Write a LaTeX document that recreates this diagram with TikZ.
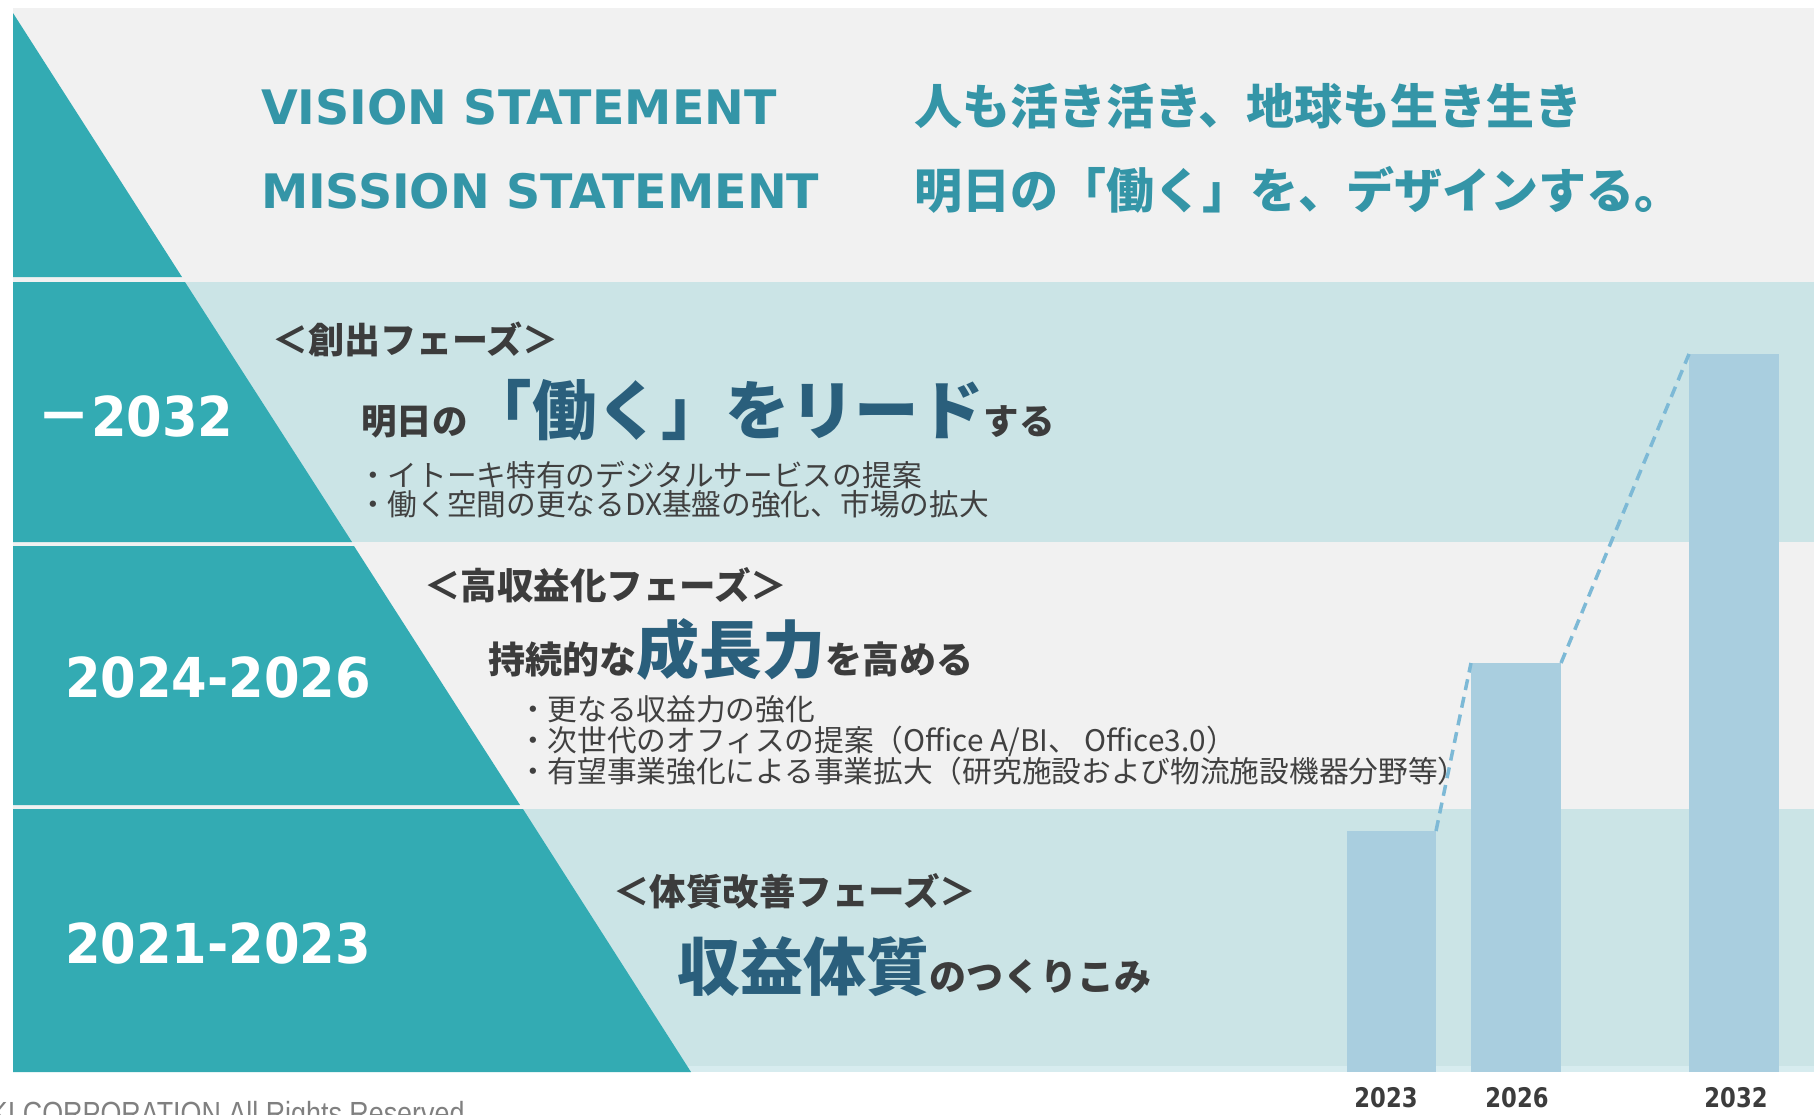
\documentclass[tikz,border=0pt]{standalone}
\usepackage{fontspec}
\newfontfamily\jp{Noto Sans CJK JP}
\newfontfamily\dv{DejaVu Sans}
\newfontfamily\dvn{DejaVu Sans}[FakeStretch=0.93]
\newfontfamily\dvl{DejaVu Sans}[FakeStretch=0.84]
\newfontfamily\lib{Liberation Sans}[FakeStretch=0.84]
\newcommand\fs[1]{\fontsize{#1}{#1}\selectfont}
\definecolor{teal}{HTML}{33ABB3}
\definecolor{ltteal}{HTML}{CBE4E6}
\definecolor{bggray}{HTML}{F1F1F1}
\definecolor{strip}{HTML}{D7ECEF}
\definecolor{barblue}{HTML}{A9CEDF}
\definecolor{dashblue}{HTML}{7DB9D6}
\definecolor{vtext}{HTML}{3495A7}
\definecolor{dkblue}{HTML}{2A5F7C}
\definecolor{dkgray}{HTML}{3C3C3C}
\definecolor{bultext}{HTML}{404040}
\definecolor{footgray}{HTML}{808080}
\begin{document}
\begin{tikzpicture}[x=1pt,y=-1pt,
  txt/.style={anchor=base west, inner sep=0pt, outer sep=0pt},
  head/.style={txt, font=\jp\bfseries\fs{36}, text=dkgray},
  bul/.style={txt, font=\jp\fs{29.7}, text=bultext},
  yr/.style={txt, font=\dvn\bfseries\fs{55}, text=white},
  top/.style={txt, font=\dv\bfseries\fs{47.5}, text=vtext},
  topjp/.style={txt, font=\jp\bfseries\fs{48}, text=vtext},
  bar/.style={fill=barblue, draw=none, anchor=south west, inner sep=0pt, outer sep=0pt},
  dashline/.style={draw=dashblue, line width=3.5pt, dash pattern=on 11pt off 7pt},
  lbl/.style={anchor=base, inner sep=0pt, font=\dvl\bfseries\fs{27}, text=dkgray}]
\useasboundingbox (0,0) rectangle (1814,1114);
\fill[white] (0,0) rectangle (1814,1114);
% bands
\fill[bggray] (13,8) rectangle (1814,282);
\fill[ltteal] (13,282) rectangle (1814,542);
\fill[bggray] (13,542) rectangle (1814,809);
\fill[ltteal] (13,809) rectangle (1814,1066);
\fill[strip] (13,1066) rectangle (1814,1072);
% teal pyramid
\fill[teal] (13,13) -- (182,277) -- (13,277) -- cycle;
\fill[teal] (13,282) -- (185,282) -- (352,542) -- (13,542) -- cycle;
\fill[teal] (13,546) -- (354,546) -- (520,805) -- (13,805) -- cycle;
\fill[teal] (13,809) -- (523,809) -- (691,1072) -- (13,1072) -- cycle;
% bars
\node[bar, minimum width=89pt, minimum height=241pt] (b23) at (1347,1072) {};
\node[bar, minimum width=90pt, minimum height=409pt] (b26) at (1471,1072) {};
\node[bar, minimum width=90pt, minimum height=718pt] (b32) at (1689,1072) {};
\draw[dashline] (b23.north east) -- (b26.north west);
\draw[dashline] (b26.north east) -- (b32.north west);
\node[lbl] (l23) at (1386,1107) {2023};
\node[lbl] (l26) at (1517,1107) {2026};
\node[lbl] (l32) at (1736,1107) {2032};
% top statements
\node[top] (vis) at (261,124) {VISION STATEMENT};
\node[top] (mis) at (261,208) {MISSION STATEMENT};
\node[topjp] (visjp) at (914,124) {人も活き活き、地球も生き生き};
\node[topjp] (misjp) at (914,208) {明日の「働く」を、デザインする。};
% band 2
\node[yr] (y1) at (36,436) {{\jp －}2032};
\node[head] (ph1) at (272,353) {＜創出フェーズ＞};
\node[head, font=\jp\bfseries\fs{35.5}] (t1) at (361,434) {明日の{\fs{64.5}\color{dkblue}「働く」をリード}する};
\node[bul] (b1a) at (358,486) {・イトーキ特有のデジタルサービスの提案};
\node[bul] (b1b) at (358,515) {・働く空間の更なるDX基盤の強化、市場の拡大};
% band 3
\node[yr] (y2) at (65,697) {2024-2026};
\node[head, font=\jp\bfseries\fs{36.5}] (ph2) at (424,599) {＜高収益化フェーズ＞};
\node[head, font=\jp\bfseries\fs{37}] (t2) at (488,673) {持続的な{\fs{63}\color{dkblue}成長力}を高める};
\node[bul] (b2a) at (518,720) {・更なる収益力の強化};
\node[bul] (b2b) at (518,751) {・次世代のオフィスの提案（Office A/BI、 Office3.0）};
\node[bul] (b2c) at (518,782) {・有望事業強化による事業拡大（研究施設および物流施設機器分野等）};
% band 4
\node[yr] (y3) at (65,963) {2021-2023};
\node[head, font=\jp\bfseries\fs{36.5}] (ph3) at (613,905) {＜体質改善フェーズ＞};
\node[head, font=\jp\bfseries\fs{37}] (t3) at (677,990) {{\fs{63}\color{dkblue}収益体質}のつくりこみ};
% footer
\node[txt, font=\lib\fs{32}, text=footgray] (foot) at (-10,1124) {KI CORPORATION All Rights Reserved};
\end{tikzpicture}
\end{document}
